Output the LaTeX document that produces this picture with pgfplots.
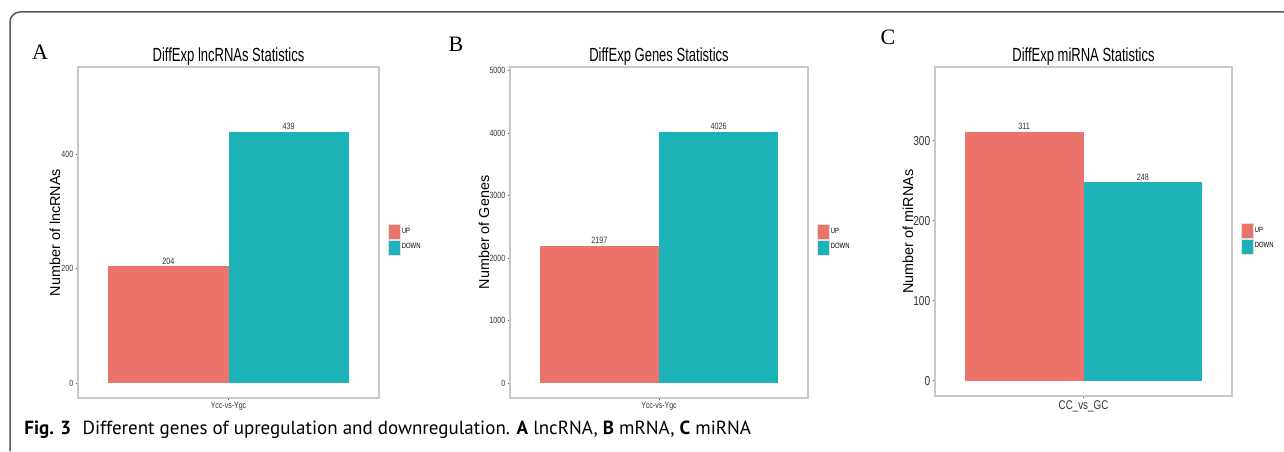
\documentclass[border=0pt]{standalone}
\usepackage{fontspec}
\setmainfont{Liberation Sans}
\newfontfamily\nar[FakeStretch=0.78]{Liberation Sans}
\newfontfamily\tnar[FakeStretch=0.685]{Liberation Sans}
\newfontfamily\ser{Liberation Serif}
\newfontfamily\capf{PT Sans}
\usepackage{pgfplots}
\pgfplotsset{compat=1.18}
\definecolor{upc}{RGB}{235,115,105}
\definecolor{downc}{RGB}{28,179,184}
\definecolor{frm}{RGB}{200,200,200}
\pgfplotsset{
 panel/.style={
  scale only axis, anchor=south west,
  axis line style={frm, line width=0.6pt},
  ybar, bar width=0.5, bar shift=0pt,
  xmin=-0.625, xmax=0.625,
  xtick={0},
  tick style={black!70, line width=0.4pt},
  major tick length=1.2pt,
  tick align=outside, xtick pos=bottom, ytick pos=left,
  /pgf/number format/assume math mode=true,
  /pgf/number format/1000 sep={},
  yticklabel style={font=\nar\fontsize{4.5}{5}\selectfont, inner sep=1pt, text=black!80},
  xticklabel style={font=\nar\fontsize{4.5}{5}\selectfont, inner sep=1pt, text=black!80},
  every axis y label/.style={font=\fontsize{7.2}{8}\selectfont, anchor=center, rotate=90},
  every axis title shift=0pt,
  title style={font=\tnar\fontsize{9.5}{10}\selectfont, anchor=base, at={(0.5,1)}, yshift=3pt},
  nodes near coords,
  nodes near coords style={font=\nar\fontsize{4.6}{5}\selectfont, anchor=south, inner sep=0.8pt, text=black!80},
  legend style={draw=none, fill=none, at={(1,0.5)}, anchor=west, xshift=4.5pt, yshift=-3.75pt,
    font=\nar\fontsize{3.8}{4.5}\selectfont, row sep=0pt, inner sep=0pt, nodes={inner sep=0.4pt}},
  legend image code/.code={\fill[##1, draw=black!12, line width=0.3pt] (0pt,-3.75pt) rectangle (6pt,3.75pt);},
  legend cell align=left,
 }
}
\begin{document}
\begin{tikzpicture}
\path[use as bounding box, fill=white] (0,0) rectangle (642pt,225.5pt);
\draw[line width=0.75pt, black!65] (5pt,0) -- (5pt,214.5pt) arc[start angle=180, end angle=90, radius=5pt] -- (642pt,219.5pt);

% Panel A
\begin{axis}[panel, at={(39pt,26.5pt)}, width=150.5pt, height=165.5pt,
  ymin=-26, ymax=552, ytick={0,200,400},
  xticklabels={Ycc-vs-Ygc},
  title={DiffExp lncRNAs Statistics},
  ylabel={Number of lncRNAs}, ylabel style={at={(axis description cs:-0.0764,0.5)}}]
\addplot[fill=upc, draw=none] coordinates {(-0.25,204)};
\addplot[fill=downc, draw=none] coordinates {(0.25,439)};
\legend{UP,DOWN}
\end{axis}

% Panel B
\begin{axis}[panel, at={(255pt,26.5pt)}, width=149pt, height=165.5pt,
  ymin=-240, ymax=5060, ytick={0,1000,2000,3000,4000,5000},
  xticklabels={Ycc-vs-Ygc},
  title={DiffExp Genes Statistics},
  ylabel={Number of Genes}, ylabel style={at={(axis description cs:-0.0872,0.5)}}]
\addplot[fill=upc, draw=none] coordinates {(-0.25,2197)};
\addplot[fill=downc, draw=none] coordinates {(0.25,4026)};
\legend{UP,DOWN}
\end{axis}

% Panel C
\begin{axis}[panel, at={(467.5pt,27.5pt)}, width=148.5pt, height=164.5pt,
  ymin=-19, ymax=392, ytick={0,100,200,300},
  xticklabels={CC\_vs\_GC},
  yticklabel style={font=\nar\fontsize{6.5}{7}\selectfont},
  xticklabel style={font=\nar\fontsize{6.3}{7}\selectfont},
  title={DiffExp miRNA Statistics},
  ylabel={Number of miRNAs}, ylabel style={at={(axis description cs:-0.0909,0.5)}}]
\addplot[fill=upc, draw=none] coordinates {(-0.25,311)};
\addplot[fill=downc, draw=none] coordinates {(0.25,248)};
\legend{UP,DOWN}
\end{axis}

\node[font=\ser\fontsize{11}{12}\selectfont] at (20pt,199.5pt) {A};
\node[font=\ser\fontsize{11}{12}\selectfont] at (228pt,203.5pt) {B};
\node[font=\ser\fontsize{11}{12}\selectfont] at (444pt,207pt) {C};

\node[anchor=base west, inner sep=0pt, font=\capf\fontsize{9.5}{10}\selectfont] at (12pt,8.5pt)
 {\textbf{Fig. 3}\hspace{0.6em}Different genes of upregulation and downregulation. \textbf{A} lncRNA, \textbf{B} mRNA, \textbf{C} miRNA};
\end{tikzpicture}
\end{document}
